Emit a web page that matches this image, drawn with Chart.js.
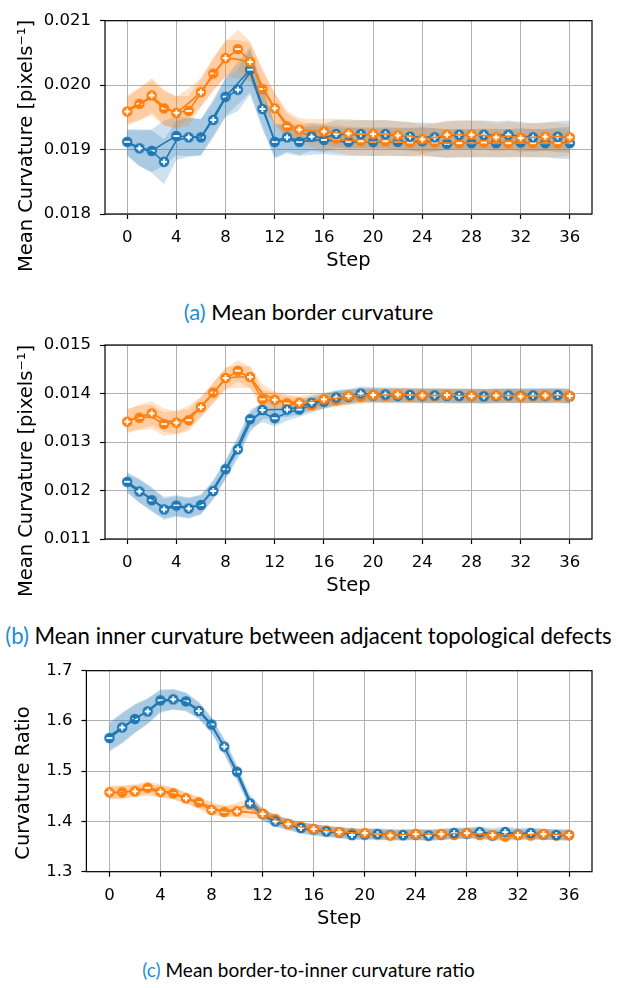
<!DOCTYPE html>
<html>
<head>
  <meta charset="utf-8" />
  <title>Mean curvature per step</title>
  <script src="https://cdn.jsdelivr.net/npm/chart.js@4.4.0/dist/chart.umd.min.js"></script>
  <style>
    body { margin: 0; background: #fff; width: 617px; height: 988px; position: relative; overflow: hidden; }
    canvas { position: absolute; left: 0; }
    .caption {
      position: absolute; left: 0; width: 617px; text-align: center;
      font-family: Lato, sans-serif; font-size: 19px; line-height: 24px;
      color: #000; white-space: nowrap;
    }
    .caption span { color: #1b8dd6; }
  </style>
</head>
<body>

<canvas id="chartA" width="617" height="285" style="top:0px"></canvas>
<div class="caption" style="top:300px; font-size:22px"><span>(a)</span> Mean border curvature</div>

<canvas id="chartB" width="617" height="285" style="top:325px"></canvas>
<div class="caption" style="top:624px; font-size:22.2px"><span>(b)</span> Mean inner curvature between adjacent topological defects</div>

<canvas id="chartC" width="617" height="295" style="top:650px"></canvas>
<div class="caption" style="top:958px; font-size:19px"><span>(c)</span> Mean border-to-inner curvature ratio</div>

<script>
  // steps on the x axis
  const STEPS = [0,1,2,3,4,5,6,7,8,9,10,11,12,13,14,15,16,17,18,19,20,21,22,23,24,25,26,27,28,29,30,31,32,33,34,35,36];
  const X_TICKS = [0,4,8,12,16,20,24,28,32,36];

  // (a) mean border curvature
  const A_Y_TICKS = [0.018, 0.019, 0.020, 0.021];
  const A_ORANGE_P = [0.01959,0.01970,0.01984,0.01966,0.01957,0.01972,0.01989,0.02015,0.02042,0.02040,
                      0.02036,0.01998,0.01964,0.01940,0.01931,0.01929,0.01928,0.01926,0.01925,0.01924,
                      0.01924,0.01924,0.01922,0.01921,0.01916,0.01919,0.01923,0.01923,0.01923,0.01922,
                      0.01919,0.01921,0.01918,0.01919,0.01920,0.01920,0.01919];
  const A_ORANGE_M = [0.01962,0.01971,0.01980,0.01964,0.01958,0.01960,0.01988,0.02018,0.02040,0.02056,
                      0.02038,0.01994,0.01963,0.01936,0.01926,0.01922,0.01918,0.01917,0.01914,0.01913,
                      0.01912,0.01913,0.01912,0.01911,0.01911,0.01911,0.01910,0.01910,0.01910,0.01911,
                      0.01910,0.01910,0.01910,0.01910,0.01910,0.01910,0.01910];
  const A_BLUE_P   = [0.01910,0.01902,0.01897,0.01881,0.01914,0.01919,0.01919,0.01946,0.01980,0.01993,
                      0.02020,0.01963,0.01914,0.01919,0.01914,0.01920,0.01918,0.01924,0.01923,0.01924,
                      0.01923,0.01924,0.01922,0.01920,0.01920,0.01919,0.01921,0.01923,0.01923,0.01923,
                      0.01922,0.01923,0.01921,0.01919,0.01920,0.01920,0.01920];
  const A_BLUE_M   = [0.01912,0.01903,0.01898,0.01910,0.01921,0.01920,0.01919,0.01950,0.01982,0.02003,
                      0.02024,0.01968,0.01912,0.01916,0.01912,0.01914,0.01915,0.01913,0.01912,0.01912,
                      0.01912,0.01912,0.01912,0.01912,0.01913,0.01911,0.01909,0.01910,0.01910,0.01910,
                      0.01910,0.01910,0.01911,0.01910,0.01910,0.01910,0.01910];
  const A_ORANGE_SD = [0.00022,0.00025,0.00027,0.00027,0.00025,0.00023,0.00022,0.00025,0.00028,0.00030,
                       0.00030,0.00028,0.00024,0.00020,0.00018,0.00018,0.00020,0.00022,0.00022,0.00022,
                       0.00022,0.00022,0.00022,0.00022,0.00022,0.00022,0.00022,0.00022,0.00022,0.00022,
                       0.00022,0.00022,0.00022,0.00022,0.00022,0.00022,0.00020];
  const A_BLUE_SD   = [0.00020,0.00028,0.00033,0.00035,0.00030,0.00030,0.00028,0.00028,0.00030,0.00033,
                       0.00035,0.00032,0.00026,0.00022,0.00022,0.00022,0.00022,0.00022,0.00022,0.00022,
                       0.00022,0.00022,0.00022,0.00022,0.00022,0.00022,0.00022,0.00022,0.00022,0.00022,
                       0.00022,0.00022,0.00022,0.00022,0.00022,0.00024,0.00025];

  // (b) mean inner curvature
  const B_Y_TICKS = [0.011, 0.012, 0.013, 0.014, 0.015];
  const B_ORANGE_P = [0.01342,0.01352,0.01359,0.01345,0.01340,0.01352,0.01372,0.01400,0.01432,0.01434,
                      0.01434,0.01400,0.01387,0.01383,0.01381,0.01384,0.01388,0.01390,0.01395,0.01396,
                      0.01397,0.01397,0.01398,0.01397,0.01396,0.01396,0.01397,0.01396,0.01395,0.01395,
                      0.01396,0.01396,0.01394,0.01395,0.01396,0.01396,0.01395];
  const B_ORANGE_M = [0.01345,0.01350,0.01352,0.01337,0.01340,0.01345,0.01372,0.01402,0.01430,0.01447,
                      0.01432,0.01388,0.01385,0.01380,0.01378,0.01376,0.01383,0.01386,0.01390,0.01393,
                      0.01395,0.01395,0.01395,0.01395,0.01395,0.01395,0.01395,0.01395,0.01395,0.01395,
                      0.01395,0.01395,0.01395,0.01395,0.01395,0.01395,0.01394];
  const B_BLUE_P   = [0.01215,0.01198,0.01183,0.01161,0.01167,0.01163,0.01172,0.01199,0.01242,0.01285,
                      0.01340,0.01366,0.01367,0.01367,0.01372,0.01381,0.01385,0.01392,0.01394,0.01400,
                      0.01398,0.01398,0.01397,0.01397,0.01396,0.01396,0.01395,0.01395,0.01395,0.01394,
                      0.01395,0.01396,0.01396,0.01396,0.01396,0.01397,0.01395];
  const B_BLUE_M   = [0.01218,0.01200,0.01180,0.01165,0.01169,0.01165,0.01170,0.01203,0.01244,0.01292,
                      0.01347,0.01360,0.01349,0.01360,0.01367,0.01376,0.01383,0.01390,0.01393,0.01396,
                      0.01396,0.01395,0.01395,0.01395,0.01395,0.01395,0.01395,0.01395,0.01395,0.01395,
                      0.01395,0.01395,0.01395,0.01395,0.01395,0.01395,0.01394];
  const B_ORANGE_SD = [0.00024,0.00025,0.00025,0.00024,0.00024,0.00023,0.00021,0.00021,0.00022,0.00022,
                       0.00022,0.00019,0.00017,0.00015,0.00014,0.00014,0.00014,0.00014,0.00014,0.00014,
                       0.00014,0.00014,0.00014,0.00014,0.00014,0.00014,0.00014,0.00014,0.00014,0.00014,
                       0.00014,0.00014,0.00014,0.00014,0.00014,0.00014,0.00014];
  const B_BLUE_SD   = [0.00020,0.00024,0.00024,0.00022,0.00021,0.00021,0.00020,0.00019,0.00019,0.00020,
                       0.00020,0.00019,0.00017,0.00016,0.00015,0.00015,0.00015,0.00015,0.00015,0.00015,
                       0.00015,0.00015,0.00015,0.00015,0.00015,0.00015,0.00015,0.00015,0.00015,0.00015,
                       0.00015,0.00015,0.00015,0.00015,0.00015,0.00015,0.00015];

  // (c) border-to-inner curvature ratio
  const C_Y_TICKS = [1.3, 1.4, 1.5, 1.6, 1.7];
  const C_ORANGE_P = [1.458,1.458,1.460,1.463,1.459,1.455,1.446,1.436,1.423,1.421,
                      1.420,1.418,1.415,1.404,1.395,1.389,1.385,1.382,1.379,1.377,
                      1.377,1.375,1.372,1.374,1.375,1.375,1.375,1.376,1.377,1.375,
                      1.373,1.373,1.373,1.374,1.375,1.374,1.373];
  const C_ORANGE_M = [1.456,1.458,1.462,1.467,1.462,1.456,1.447,1.438,1.428,1.419,
                      1.425,1.434,1.418,1.405,1.396,1.390,1.386,1.382,1.379,1.377,
                      1.375,1.374,1.373,1.373,1.373,1.372,1.373,1.373,1.374,1.373,
                      1.372,1.370,1.372,1.372,1.373,1.372,1.372];
  const C_BLUE_P   = [1.570,1.587,1.605,1.619,1.638,1.643,1.637,1.620,1.590,1.549,
                      1.495,1.436,1.412,1.400,1.393,1.387,1.383,1.380,1.378,1.373,
                      1.375,1.375,1.374,1.373,1.374,1.372,1.374,1.377,1.377,1.379,
                      1.376,1.379,1.376,1.377,1.375,1.373,1.373];
  const C_BLUE_M   = [1.566,1.585,1.604,1.620,1.641,1.643,1.639,1.622,1.593,1.548,
                      1.499,1.442,1.415,1.402,1.395,1.387,1.384,1.380,1.378,1.376,
                      1.374,1.375,1.373,1.373,1.374,1.373,1.374,1.376,1.376,1.377,
                      1.372,1.375,1.374,1.375,1.374,1.374,1.373];
  const C_ORANGE_SD = [0.013,0.013,0.012,0.012,0.012,0.012,0.011,0.011,0.011,0.011,
                       0.012,0.012,0.010,0.009,0.009,0.009,0.009,0.009,0.009,0.009,
                       0.009,0.009,0.009,0.009,0.009,0.009,0.009,0.009,0.009,0.009,
                       0.009,0.009,0.009,0.009,0.009,0.009,0.009];
  const C_BLUE_SD   = [0.028,0.030,0.028,0.025,0.022,0.020,0.018,0.016,0.015,0.015,
                       0.014,0.012,0.011,0.011,0.011,0.011,0.011,0.011,0.011,0.011,
                       0.011,0.011,0.011,0.011,0.011,0.011,0.011,0.011,0.011,0.011,
                       0.011,0.011,0.011,0.011,0.011,0.011,0.011];

  const BLUE = '#1f77b4', ORANGE = '#ff7f0e';
  const BLUE_BAND = 'rgba(31,119,180,0.22)', ORANGE_BAND = 'rgba(255,127,14,0.22)';
  const FONT = 'DejaVu Sans';

  // round marker with a white + or - in it
  function markerImage(color, sign) {
    const c = document.createElement('canvas');
    c.width = 12; c.height = 12;
    const g = c.getContext('2d');
    g.fillStyle = color;
    g.beginPath(); g.arc(6, 6, 5.2, 0, Math.PI * 2); g.fill();
    g.strokeStyle = '#fff'; g.lineWidth = 1.8;
    g.beginPath(); g.moveTo(3, 6); g.lineTo(9, 6);
    if (sign === '+') { g.moveTo(6, 3); g.lineTo(6, 9); }
    g.stroke();
    return c;
  }

  // black box round the plot area
  const frame = {
    id: 'frame',
    afterDatasetsDraw(chart) {
      const { ctx, chartArea: a } = chart;
      ctx.save();
      ctx.strokeStyle = '#000';
      ctx.lineWidth = 1.2;
      ctx.strokeRect(a.left, a.top, a.right - a.left, a.bottom - a.top);
      ctx.restore();
    }
  };

  // rotated y axis label
  const yTitle = {
    id: 'yTitle',
    afterDraw(chart, args, opts) {
      const ctx = chart.ctx;
      ctx.save();
      ctx.translate(opts.x, opts.y);
      ctx.rotate(-Math.PI / 2);
      ctx.font = '19.5px "' + FONT + '"';
      ctx.fillStyle = '#000';
      ctx.textAlign = 'center';
      ctx.textBaseline = 'middle';
      ctx.fillText(opts.text, 0, 0);
      ctx.restore();
    }
  };

  function drawPanel(canvasId, p) {
    const series = [
      { mean: p.orangeM, sd: p.orangeSd, color: ORANGE, band: ORANGE_BAND, sign: '-', parity: 1 },
      { mean: p.blueM,   sd: p.blueSd,   color: BLUE,   band: BLUE_BAND,   sign: '-', parity: 0 },
      { mean: p.orangeP, sd: p.orangeSd, color: ORANGE, band: ORANGE_BAND, sign: '+', parity: 0 },
      { mean: p.blueP,   sd: p.blueSd,   color: BLUE,   band: BLUE_BAND,   sign: '+', parity: 1 }
    ];
    const datasets = [];
    series.forEach(s => {
      datasets.push({
        data: s.mean.map((v, i) => ({ x: STEPS[i], y: v })),
        borderColor: s.color,
        backgroundColor: s.color,
        borderWidth: 1.6,
        pointStyle: markerImage(s.color, s.sign),
        pointRadius: ctx => (ctx.dataIndex % 2 === s.parity ? 5 : 0),
        fill: false,
        order: s.sign === '+' ? 1 : 2
      });
    });
    series.forEach(s => {
      datasets.push({
        data: s.mean.map((v, i) => ({ x: STEPS[i], y: v + s.sd[i] })),
        fill: '+1', backgroundColor: s.band,
        borderColor: 'rgba(0,0,0,0)', borderWidth: 0, pointRadius: 0, order: 3
      });
      datasets.push({
        data: s.mean.map((v, i) => ({ x: STEPS[i], y: v - s.sd[i] })),
        fill: false,
        borderColor: 'rgba(0,0,0,0)', borderWidth: 0, pointRadius: 0, order: 3
      });
    });

    const grid = { color: '#b0b0b0', lineWidth: 1, tickColor: '#000', tickLength: 5, tickWidth: 1.2 };

    new Chart(document.getElementById(canvasId).getContext('2d'), {
      type: 'line',
      data: { datasets },
      options: {
        responsive: false,
        animation: false,
        events: [],
        layout: { padding: p.pad },
        plugins: {
          legend: { display: false },
          tooltip: { enabled: false },
          yTitle: p.yTitle
        },
        scales: {
          x: {
            type: 'linear', min: -1.8, max: 37.8,
            afterBuildTicks: s => { s.ticks = X_TICKS.map(v => ({ value: v })); },
            afterFit: s => { s.height = 59; },
            grid, border: { display: false },
            ticks: { color: '#000', font: { family: FONT, size: 16.5 }, padding: 9, maxRotation: 0, autoSkip: false },
            title: { display: true, text: 'Step', color: '#000', font: { family: FONT, size: 19.5 }, padding: 0 }
          },
          y: {
            type: 'linear', min: p.yTicks[0], max: p.yTicks[p.yTicks.length - 1],
            afterBuildTicks: s => { s.ticks = p.yTicks.map(v => ({ value: v })); },
            afterFit: s => { s.width = p.left; },
            grid, border: { display: false },
            ticks: { color: '#000', font: { family: FONT, size: 16.5 }, padding: 9,
                     callback: v => v.toFixed(p.dec) }
          }
        }
      },
      plugins: [frame, yTitle]
    });
  }

  drawPanel('chartA', {
    orangeP: A_ORANGE_P, orangeM: A_ORANGE_M, blueP: A_BLUE_P, blueM: A_BLUE_M,
    orangeSd: A_ORANGE_SD, blueSd: A_BLUE_SD, yTicks: A_Y_TICKS, dec: 3,
    left: 105, pad: { left: 0, right: 25, top: 20.7, bottom: 12 },
    yTitle: { text: 'Mean Curvature [pixels\u207B\u00B9]', x: 27, y: 146 }
  });

  drawPanel('chartB', {
    orangeP: B_ORANGE_P, orangeM: B_ORANGE_M, blueP: B_BLUE_P, blueM: B_BLUE_M,
    orangeSd: B_ORANGE_SD, blueSd: B_BLUE_SD, yTicks: B_Y_TICKS, dec: 3,
    left: 105, pad: { left: 0, right: 25, top: 20, bottom: 12 },
    yTitle: { text: 'Mean Curvature [pixels\u207B\u00B9]', x: 27, y: 146 }
  });

  drawPanel('chartC', {
    orangeP: C_ORANGE_P, orangeM: C_ORANGE_M, blueP: C_BLUE_P, blueM: C_BLUE_M,
    orangeSd: C_ORANGE_SD, blueSd: C_BLUE_SD, yTicks: C_Y_TICKS, dec: 1,
    left: 86.4, pad: { left: 0, right: 25, top: 20.7, bottom: 14.3 },
    yTitle: { text: 'Curvature Ratio', x: 24, y: 133 }
  });
</script>

</body>
</html>
